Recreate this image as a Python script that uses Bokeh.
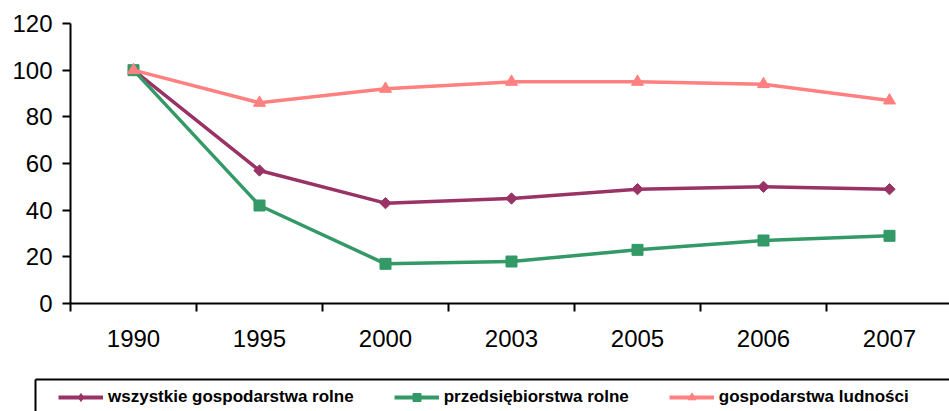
import numpy as np
from bokeh.plotting import figure
from bokeh.models import Range1d, FixedTicker, Legend, LegendItem
from bokeh.embed import file_html
from bokeh.resources import INLINE

years = ["1990", "1995", "2000", "2003", "2005", "2006", "2007"]
wszystkie = [100, 57, 43, 45, 49, 50, 49]
przedsiebiorstwa = [100, 42, 17, 18, 23, 27, 29]
ludnosci = [100, 86, 92, 95, 95, 94, 87]
y_ticks = [0, 20, 40, 60, 80, 100, 120]

labels = ["wszystkie gospodarstwa rolne", "przedsiębiorstwa rolne", "gospodarstwa ludności"]
colors = ["#993366", "#339966", "#FF8080"]
markers = ["square", "square", "triangle"]
angles = [np.pi / 4, 0, 0]
sizes = [8, 11, 12]
legend_markers = ["diamond", "square", "triangle"]
legend_sizes = [12, 10, 11]
series = [wszystkie, przedsiebiorstwa, ludnosci]

W = 949
H1, H2 = 368, 43
frame_left, frame_top = 70, 23
frame_w, frame_h = W - frame_left, 280
step = 126.0

p = figure(width=W, height=H1, output_backend="svg", toolbar_location=None,
           x_range=Range1d(0, frame_w / step), y_range=Range1d(0, 120),
           min_border_left=frame_left, min_border_right=0, min_border_top=frame_top,
           min_border_bottom=H1 - frame_top - frame_h)
p.outline_line_color = None
p.grid.visible = False
p.background_fill_color = "white"
p.border_fill_color = "white"

x = np.arange(len(years)) + 0.5

for vals, col, mk, ang, sz in zip(series, colors, markers, angles, sizes):
    p.line(x, vals, line_color=col, line_width=3.5)
    p.scatter(x, vals, marker=mk, angle=ang, size=sz, fill_color=col, line_color=col)

# x axis
xa = p.xaxis[0]
xa.ticker = FixedTicker(ticks=list(x), minor_ticks=list(range(len(years) + 1)))
xa.major_label_overrides = {float(xi): y for xi, y in zip(x, years)}
xa.major_tick_out = 0
xa.major_tick_in = 0
xa.minor_tick_out = 8
xa.minor_tick_in = 0
xa.minor_tick_line_color = "black"
xa.minor_tick_line_width = 2
xa.axis_line_color = "black"
xa.axis_line_width = 2
xa.major_label_text_font = "Liberation Sans"
xa.major_label_text_font_size = "24px"
xa.major_label_text_color = "black"
xa.major_label_standoff = 18

ya = p.yaxis[0]
ya.ticker = FixedTicker(ticks=y_ticks, minor_ticks=[])
ya.major_tick_out = 8
ya.major_tick_in = 0
ya.major_tick_line_color = "black"
ya.major_tick_line_width = 2
ya.axis_line_color = "black"
ya.axis_line_width = 2
ya.major_label_text_font = "Liberation Sans"
ya.major_label_text_font_size = "24px"
ya.major_label_text_color = "black"
ya.major_label_standoff = 10

# legend figure: its top and left axis lines form the (cut-off) legend box;
# proxy glyphs use the same data but lie outside its view
lg_left, lg_top = 35, 11
p2 = figure(width=W, height=H2, output_backend="svg", toolbar_location=None,
            x_range=Range1d(0, 1), y_range=Range1d(1000, 1001),
            x_axis_location="above", y_axis_location="left",
            min_border_left=lg_left, min_border_right=0, min_border_top=lg_top,
            min_border_bottom=0)
p2.outline_line_color = None
p2.grid.visible = False
p2.border_fill_color = "white"
p2.background_fill_color = "white"
for ax in (p2.xaxis[0], p2.yaxis[0]):
    ax.ticker = FixedTicker(ticks=[], minor_ticks=[])
    ax.major_tick_out = 0
    ax.major_tick_in = 0
    ax.minor_tick_out = 0
    ax.minor_tick_in = 0
    ax.major_label_text_font_size = "0px"
    ax.major_label_standoff = 0
    ax.axis_line_color = "black"
    ax.axis_line_width = 2

items = []
for vals, lab, col, mk, sz in zip(series, labels, colors, legend_markers, legend_sizes):
    r1 = p2.line(x, vals, line_color=col, line_width=4)
    r2 = p2.scatter(x, vals, marker=mk, size=sz, fill_color=col, line_color=col)
    items.append(LegendItem(label=lab, renderers=[r1, r2]))

legend = Legend(items=items, orientation="horizontal", location=(23, 4),
                padding=0, margin=0, spacing=40, glyph_width=45, glyph_height=20,
                label_height=20, label_standoff=5,
                label_text_font="Liberation Sans", label_text_font_style="bold",
                label_text_font_size="17px", label_text_color="black",
                border_line_alpha=0, background_fill_alpha=0)
p2.add_layout(legend, "center")

open("out.html", "w").write(file_html([p, p2], INLINE))
